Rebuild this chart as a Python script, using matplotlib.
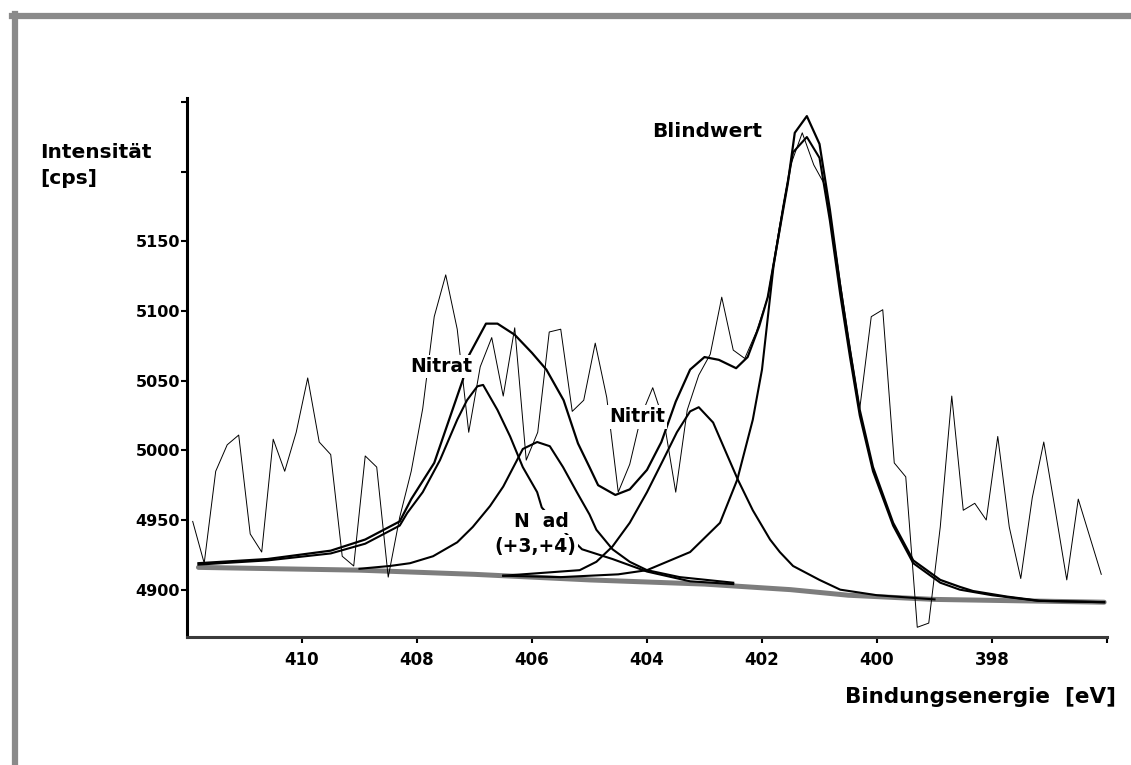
#!/usr/bin/env python3
"""
XPS N 1s spectrum with peak fit (Nitrat, N ad, Nitrit, Blindwert).
Recreated from a scanned printout.
"""

import matplotlib
matplotlib.use("Agg")
import matplotlib.pyplot as plt
from matplotlib.lines import Line2D

# raw spectrum (binding energy in eV, counts in cps)
RAW_E = [411.9, 411.7, 411.5, 411.3, 411.1, 410.9, 410.7, 410.5, 410.3, 410.1,
         409.9, 409.7, 409.5, 409.3, 409.1, 408.9, 408.7, 408.5, 408.3, 408.1,
         407.9, 407.7, 407.5, 407.3, 407.1, 406.9, 406.7, 406.5, 406.3, 406.1,
         405.9, 405.7, 405.5, 405.3, 405.1, 404.9, 404.7, 404.5, 404.3, 404.1,
         403.9, 403.7, 403.5, 403.3, 403.1, 402.9, 402.7, 402.5, 402.3, 402.1,
         401.9, 401.7, 401.5, 401.3, 401.1, 400.9, 400.7, 400.5, 400.3, 400.1,
         399.9, 399.7, 399.5, 399.3, 399.1, 398.9, 398.7, 398.5, 398.3, 398.1,
         397.9, 397.7, 397.5, 397.3, 397.1, 396.9, 396.7, 396.5, 396.3, 396.1]
RAW_I = [4949, 4919, 4985, 5004, 5011, 4940, 4927, 5008, 4985, 5013,
         5052, 5006, 4997, 4924, 4917, 4996, 4988, 4909, 4952, 4985,
         5030, 5096, 5126, 5087, 5013, 5060, 5081, 5039, 5088, 4993,
         5013, 5085, 5087, 5028, 5036, 5077, 5038, 4970, 4990, 5025,
         5045, 5020, 4970, 5029, 5054, 5069, 5110, 5072, 5066, 5085,
         5110, 5160, 5205, 5228, 5205, 5190, 5138, 5082, 5030, 5096,
         5101, 4991, 4981, 4873, 4876, 4945, 5039, 4957, 4962, 4950,
         5010, 4945, 4908, 4966, 5006, 4957, 4907, 4965, 4938, 4911]

# background
BG_E = [411.8, 409.0, 407.0, 405.0, 403.0, 401.5, 400.5, 399.0, 396.05]
BG_I = [4916, 4914, 4911, 4907, 4904, 4900, 4896, 4893, 4891]

# fit envelope (sum)
ENV_E = [411.8, 410.6, 409.5, 408.9, 408.3, 408.1, 407.7, 407.5, 407.2, 407.1,
         406.8, 406.6, 406.3, 406.0, 405.75, 405.45, 405.2, 405.0, 404.85, 404.55,
         404.3, 404.0, 403.75, 403.5, 403.25, 403.0, 402.75, 402.45, 402.25, 402.05,
         401.9, 401.75, 401.55, 401.43, 401.22, 401.0, 400.82, 400.64, 400.47, 400.3,
         400.07, 399.72, 399.37, 398.9, 398.56, 398.33, 397.74, 397.17, 396.05]
ENV_I = [4919, 4922, 4928, 4936, 4949, 4965, 4991, 5015, 5051, 5068,
         5091, 5091, 5083, 5070, 5058, 5036, 5005, 4988, 4975, 4968,
         4972, 4986, 5006, 5035, 5058, 5067, 5065, 5059, 5067, 5089,
         5110, 5145, 5192, 5228, 5240, 5220, 5173, 5118, 5072, 5029,
         4988, 4948, 4921, 4907, 4902, 4899, 4895, 4892, 4891]

# component "Nitrat"
NT_E = [411.8, 410.6, 409.5, 408.9, 408.3, 408.17, 407.9, 407.6, 407.3, 407.13,
        406.95, 406.85, 406.6, 406.38, 406.16, 405.91, 405.83, 405.5, 405.13, 404.6,
        404.0, 403.25, 402.5]
NT_I = [4918, 4921, 4926, 4933, 4946, 4955, 4970, 4993, 5022, 5036,
        5046, 5047, 5029, 5010, 4988, 4970, 4959, 4944, 4929, 4922,
        4913, 4906, 4904]

# component "N ad (+3,+4)"
NA_E = [409.0, 408.47, 408.12, 407.72, 407.3, 407.03, 406.73, 406.5, 406.26, 406.16,
        405.91, 405.69, 405.46, 405.22, 405.0, 404.88, 404.6, 404.3, 404.0, 403.43,
        402.5]
NA_I = [4915, 4917, 4919, 4924, 4934, 4945, 4960, 4974, 4993, 5001,
        5006, 5003, 4988, 4970, 4954, 4943, 4929, 4920, 4914, 4909,
        4905]

# component "Nitrit"
NI_E = [406.5, 405.17, 404.88, 404.6, 404.3, 404.0, 403.72, 403.48, 403.25, 403.1,
        402.85, 402.62, 402.42, 402.16, 401.86, 401.69, 401.46, 401.0, 400.64, 400.0,
        399.0]
NI_I = [4910, 4914, 4920, 4931, 4948, 4970, 4993, 5013, 5028, 5031,
        5020, 4998, 4979, 4957, 4936, 4927, 4917, 4907, 4900, 4896,
        4893]

# component "Blindwert"
BW_E = [406.5, 405.5, 404.5, 404.0, 403.25, 402.73, 402.43, 402.16, 402.0, 401.8,
        401.63, 401.46, 401.22, 401.0, 400.82, 400.64, 400.47, 400.3, 400.07, 399.72,
        399.37, 398.9, 398.56, 398.0, 397.2, 396.05]
BW_I = [4910, 4909, 4911, 4914, 4927, 4948, 4979, 5022, 5058, 5132,
        5175, 5214, 5225, 5210, 5165, 5112, 5067, 5025, 4985, 4946,
        4919, 4905, 4900, 4896, 4892, 4891]

X_TICKS = [410, 408, 406, 404, 402, 400, 398, 396]
X_LABELS = ["410", "408", "406", "404", "402", "400", "398", ""]
Y_TICKS = [4900, 4950, 5000, 5050, 5100, 5150, 5200, 5250]
Y_LABELS = ["4900", "4950", "5000", "5050", "5100", "5150", "", ""]

plt.rcParams["font.family"] = ["DejaVu Sans"]
plt.rcParams["font.weight"] = "bold"

fig = plt.figure(figsize=(11.31, 7.65), dpi=100)
ax = fig.add_axes([0.1653, 0.1673, 0.8135, 0.7046])

# scan frame
fig.add_artist(Line2D([0.011, 1.0], [0.979, 0.979], transform=fig.transFigure,
                      color="#8a8a8a", lw=4.5))
fig.add_artist(Line2D([0.0133, 0.0133], [0.0, 0.982], transform=fig.transFigure,
                      color="#8a8a8a", lw=4.5))

ax.plot(BG_E, BG_I, color="#7d7d7d", lw=3.6, solid_capstyle="round", zorder=2)
for e, i in [(NT_E, NT_I), (NA_E, NA_I), (NI_E, NI_I), (BW_E, BW_I)]:
    ax.plot(e, i, color="black", lw=1.5, zorder=3)
ax.plot(ENV_E, ENV_I, color="black", lw=1.6, zorder=3)
ax.plot(RAW_E, RAW_I, color="black", lw=0.7, zorder=4)

box = dict(facecolor="white", edgecolor="none", pad=1.5)
lab = dict(fontsize=13.5, fontweight="bold", ha="center", va="center", zorder=6)
ax.text(402.96, 5229, "Blindwert", fontsize=14.5, fontweight="bold",
        ha="center", va="center", zorder=6)
ax.text(407.58, 5060, "Nitrat", bbox=box, **lab)
ax.text(404.17, 5024, "Nitrit", bbox=box, **lab)
ax.text(405.83, 4949, "N  ad", bbox=box, **lab)
ax.text(405.95, 4931, "(+3,+4)", bbox=box, **lab)

ax.set_xlim(412, 396)
ax.set_ylim(4866, 5253)
ax.set_xticks(X_TICKS)
ax.set_xticklabels(X_LABELS)
ax.set_yticks(Y_TICKS)
ax.set_yticklabels(Y_LABELS)
ax.tick_params(axis="both", direction="out", length=4, width=1.5,
               labelsize=11.5, color="black")
ax.tick_params(axis="x", pad=6, labelsize=12)
ax.tick_params(axis="y", pad=1)
for t in ax.get_xticklabels() + ax.get_yticklabels():
    t.set_fontweight("bold")

ax.spines["top"].set_visible(False)
ax.spines["right"].set_visible(False)
ax.spines["left"].set_linewidth(2.2)
ax.spines["bottom"].set_linewidth(2.2)
ax.spines["bottom"].set_color("#3a3a3a")

fig.text(0.0354, 0.8013, "Intensität", fontsize=14.5, fontweight="bold",
         ha="left", va="center")
fig.text(0.0354, 0.7673, "[cps]", fontsize=14.5, fontweight="bold",
         ha="left", va="center")
fig.text(0.987, 0.0889, "Bindungsenergie  [eV]", fontsize=15.5, fontweight="bold",
         ha="right", va="center")

fig.savefig("out.png", dpi=100)
